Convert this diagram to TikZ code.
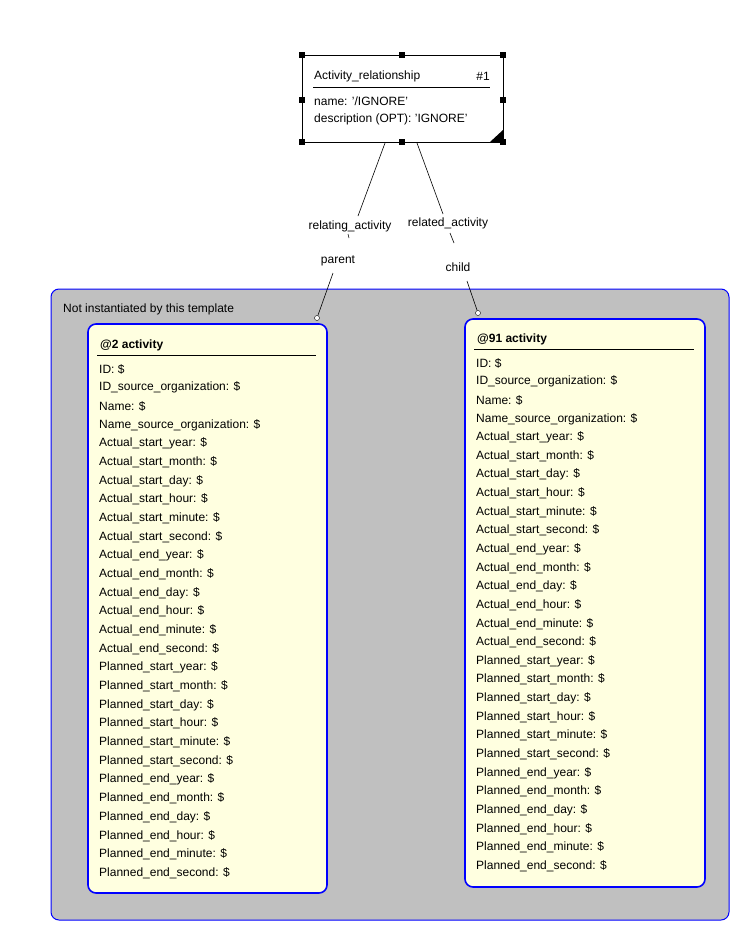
\documentclass[tikz,border=0pt]{standalone}
\usepackage{fontspec}
\setmainfont{Liberation Sans}
\begin{document}
\begin{tikzpicture}[x=1pt,y=-1pt,
 t/.style={inner sep=0pt,anchor=west,font=\fontsize{12}{14}\selectfont},
 c/.style={inner sep=0pt,font=\fontsize{12}{14}\selectfont},
 h/.style={fill=black,minimum size=6pt,inner sep=0pt},
 ent/.style={draw=blue,line width=1.6pt,fill={rgb,255:red,255;green,255;blue,224},rounded corners=8pt},
 lk/.style={black,line width=0.6pt},
 oc/.style={draw=black,fill=white,circle,inner sep=0pt,minimum size=5pt}]
\useasboundingbox (0,0) rectangle (742,932);
% top box
\draw[line width=1pt] (302,55) rectangle (503,142);
\fill (503,142) -- (490,142) -- (503,130) -- cycle;
\foreach \p/\n in {{302,55}/h1,{402,55}/h2,{503,55}/h3,{302,100}/h4,{503,100}/h5,{302,142}/h6,{402,142}/h7,{503,142}/h8}
  \node[h] (\n) at (\p) {};
\node[t] (ar) at (314,76) {Activity\_relationship};
\node[c,anchor=east] (n1) at (490,76) {\#1};
\draw (313,87) -- (490,87);
\node[t] (nm) at (314,101) {name: '/IGNORE'};
\node[t] (ds) at (314,119) {description (OPT): 'IGNORE'};
% panel
\draw[draw=blue,line width=1pt,fill={rgb,255:red,192;green,192;blue,192},rounded corners=8pt] (51,289) rectangle (729,920);
\node[t] (nit) at (63,309) {Not instantiated by this template};
% left entity
\draw[ent] (88,324) rectangle (327,893);
\node[t,font=\fontsize{12}{14}\selectfont\bfseries] (lt) at (100,345) {@2 activity};
\draw (97,355) -- (316,355);
\draw[ent] (465,319) rectangle (705,887);
\node[t,font=\fontsize{12}{14}\selectfont\bfseries] (rt) at (477,339) {@91 activity};
\draw (474,349) -- (694,349);
\foreach \s [count=\i from 0] in {ID: \$,ID\_source\_organization: \$,Name: \$,Name\_source\_organization: \$,
Actual\_start\_year: \$,Actual\_start\_month: \$,Actual\_start\_day: \$,Actual\_start\_hour: \$,Actual\_start\_minute: \$,Actual\_start\_second: \$,
Actual\_end\_year: \$,Actual\_end\_month: \$,Actual\_end\_day: \$,Actual\_end\_hour: \$,Actual\_end\_minute: \$,Actual\_end\_second: \$,
Planned\_start\_year: \$,Planned\_start\_month: \$,Planned\_start\_day: \$,Planned\_start\_hour: \$,Planned\_start\_minute: \$,Planned\_start\_second: \$,
Planned\_end\_year: \$,Planned\_end\_month: \$,Planned\_end\_day: \$,Planned\_end\_hour: \$,Planned\_end\_minute: \$,Planned\_end\_second: \$}{
 \node[t] (l\i) at (99,369+18.67*\i) {\s};
 \node[t] (r\i) at (476,363+18.63*\i) {\s};
}
% connectors
\coordinate (a1) at (385,143);
\coordinate (a2) at (358,216);
\node[c] (rel1) at (350,226) {relating\_activity};
\draw[lk] (a1) -- (a2);
\draw[lk] (348,234) -- (349,238);
\node[c] (par) at (338,261) {parent};
\node[oc] (o1) at (317,318) {};
\draw[lk] (333,273) -- (o1);
\coordinate (b1) at (417,143);
\coordinate (b2) at (443,214);
\node[c] (rel2) at (448,223) {related\_activity};
\draw[lk] (b1) -- (b2);
\draw[lk] (450,233) -- (454,243);
\node[c] (chi) at (458,267) {child};
\node[oc] (o2) at (478,313) {};
\draw[lk] (467,281) -- (o2);
\end{tikzpicture}
\end{document}
